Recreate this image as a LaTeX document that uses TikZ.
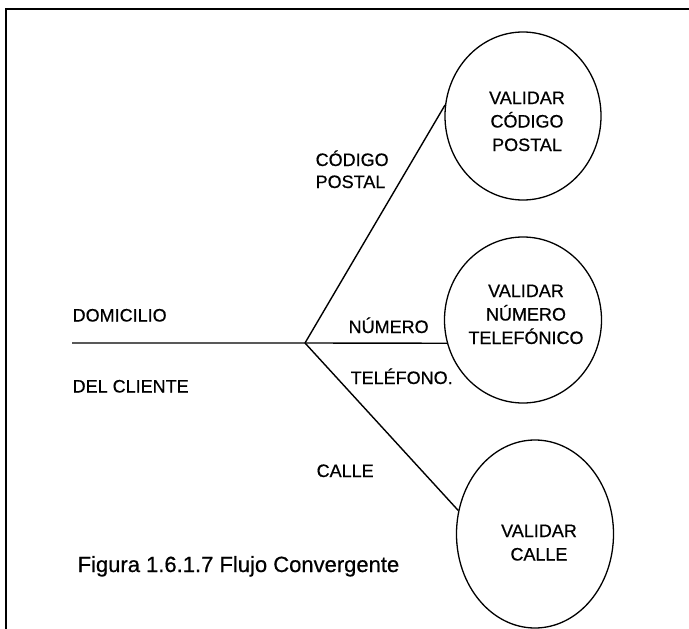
\documentclass[tikz,border=0pt]{standalone}
\usepackage{fontspec}
\setmainfont{Liberation Sans}[BoldFont=Liberation Sans, BoldFeatures={FakeBold=0.6}]
\usetikzlibrary{shapes.geometric}
\begin{document}
\begin{tikzpicture}[x=1pt,y=-1pt, line width=1.3pt,
  procbox/.style={draw, ellipse, inner sep=0pt},
  lbl/.style={font=\bfseries\fontsize{18}{22}\selectfont, inner sep=0pt, anchor=base west},
  ctext/.style={font=\bfseries\fontsize{18}{23.5}\selectfont, inner sep=0pt, anchor=base, text width=160pt, align=center},
  flow/.style={line width=1.4pt}]
\useasboundingbox (0,0) rectangle (689,629);
% frame
\draw[line width=1.4pt] (6,629) -- (6,9) -- (689,9);
% processes
\node[procbox, minimum width=156pt, minimum height=168pt] (c1) at (523,116) {};
\node[procbox, minimum width=157pt, minimum height=166pt] (c2) at (523,320) {};
\node[procbox, minimum width=157pt, minimum height=188pt] (c3) at (535,534) {};
\node[ctext] (t1) at (527,104) {VALIDAR\\CÓDIGO\\POSTAL};
\node[ctext] (t2) at (526,297) {VALIDAR\\NÚMERO\\TELEFÓNICO};
\node[ctext] (t3) at (539,537) {VALIDAR\\CALLE};
% flows
\coordinate (start) at (72,343);
\coordinate (j) at (305,343);
\draw[flow] (start) -- (j) -- (c2.197);
\draw[flow] (j) -- (c1.172);
\draw[flow] (j) -- (c3.163);
% labels
\node[lbl] (l1) at (72,321.5) {DOMICILIO};
\node[lbl] (l2) at (72,392.5) {DEL CLIENTE};
\node[lbl] (l3) at (315,166) {CÓDIGO};
\node[lbl] (l4) at (315,188) {POSTAL};
\node[lbl] (l5) at (348,333) {NÚMERO};
\node[lbl] (l6) at (350,384) {TELÉFONO.};
\node[lbl] (l7) at (316,477) {CALLE};
\node[font=\bfseries\fontsize{22}{26}\selectfont, inner sep=0pt, anchor=base west] (cap) at (77,572) {Figura 1.6.1.7 Flujo Convergente};
\end{tikzpicture}
\end{document}
